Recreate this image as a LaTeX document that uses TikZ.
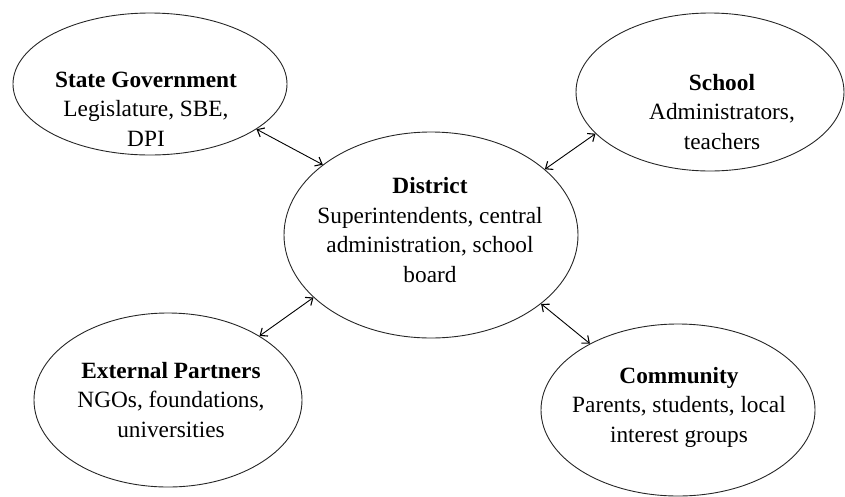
\documentclass[tikz,border=0pt]{standalone}
\usepackage{fontspec}
\setmainfont{Liberation Serif}
\usetikzlibrary{arrows.meta,shapes.geometric}
\tikzset{
  group/.style={ellipse,draw=black!85,line width=0.9pt,inner sep=0pt},
  members/.style={align=center,inner sep=0pt,font=\fontsize{23.3}{29.5}\selectfont},
  links/.style={
    <->,>={Straight Barb[length=6pt,width=10pt,line width=1.1pt]},
    every edge/.style={draw,line width=0.9pt}
  },
  chart/.style={x=1pt,y=-1pt}
}

\begin{document}
\begin{tikzpicture}[chart]
  \useasboundingbox (0,0) rectangle (845,496);
  % the five groups
  \node[group,minimum width=274pt,minimum height=142pt] (state) at (150,84) {};
  \node[group,minimum width=294pt,minimum height=206pt] (district) at (431,235) {};
  \node[group,minimum width=268pt,minimum height=158pt] (school) at (710,92) {};
  \node[group,minimum width=268pt,minimum height=174pt] (external) at (168,400) {};
  \node[group,minimum width=274pt,minimum height=172pt] (community) at (678,410) {};
  % their members
  \node[members] (state-text) at (146,109) {\textbf{State Government}\\Legislature, SBE,\\DPI};
  \node[members] (district-text) at (430,230) {\textbf{District}\\Superintendents, central\\administration, school\\board};
  \node[members] (school-text) at (722,112) {\textbf{School}\\Administrators,\\teachers};
  \node[members] (external-text) at (171,400) {\textbf{External Partners}\\NGOs, foundations,\\universities};
  \node[members] (community-text) at (679,407) {\textbf{Community}\\Parents, students, local\\interest groups};
  \path[links]
  (state.-23.5) edge (district.147.4)
  (district.30.9) edge (school.200.9)
  (district.208.6) edge (external.35.2)
  (district.-32.2) edge (community.143)
  ;
\end{tikzpicture}
\end{document}
